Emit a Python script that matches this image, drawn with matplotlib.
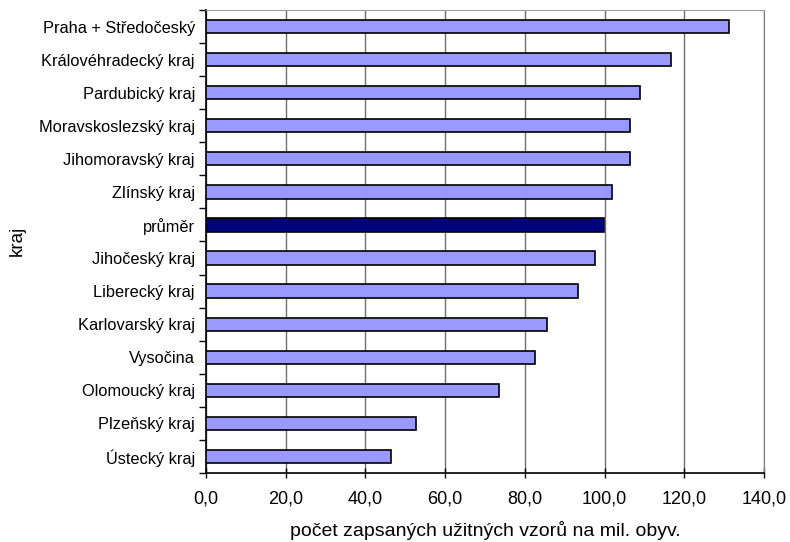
import numpy as np
import matplotlib
matplotlib.use('Agg')
import matplotlib.pyplot as plt
from matplotlib.ticker import FuncFormatter, FixedLocator

plt.rcParams['font.family'] = ['Liberation Sans', 'DejaVu Sans']

# kraje shora dolů
regions = ['Praha + Středočeský', 'Královéhradecký kraj', 'Pardubický kraj',
           'Moravskoslezský kraj', 'Jihomoravský kraj', 'Zlínský kraj', 'průměr',
           'Jihočeský kraj', 'Liberecký kraj', 'Karlovarský kraj', 'Vysočina',
           'Olomoucký kraj', 'Plzeňský kraj', 'Ústecký kraj']
values = [131.1, 116.7, 108.9, 106.3, 106.3, 101.8, 99.8,
          97.5, 93.4, 85.5, 82.5, 73.4, 52.7, 46.4]
x_ticks = [0, 20, 40, 60, 80, 100, 120, 140]

fig = plt.figure(figsize=(7.9, 5.42), dpi=100)
ax = fig.add_axes([206 / 790, 1 - 473 / 542, 558 / 790, 463 / 542])

n = len(regions)
ypos = np.arange(n)[::-1]
colors = ['#000080' if r == 'průměr' else '#9999FF' for r in regions]
ax.barh(ypos, values, height=0.4, color=colors, edgecolor='black', linewidth=1.2, zorder=3)

ax.set_xlim(0, 140)
ax.set_ylim(-0.5, n - 0.5)
ax.set_xticks(x_ticks)
ax.xaxis.set_major_formatter(FuncFormatter(lambda v, p: f'{v:.1f}'.replace('.', ',')))
ax.tick_params(axis='x', direction='inout', length=7, width=1, labelsize=13, pad=9)

ax.set_yticks(ypos)
ax.set_yticklabels(regions, fontsize=11.8)
ax.yaxis.set_minor_locator(FixedLocator(np.arange(n + 1) - 0.5))
ax.tick_params(axis='y', which='major', length=0, pad=8)
ax.tick_params(axis='y', which='minor', direction='out', length=5, width=1)

ax.grid(axis='x', color='#707070', linewidth=1, zorder=0)
ax.spines['top'].set_color('#a0a0a0')
ax.spines['right'].set_color('#808080')
ax.spines['left'].set_linewidth(1.2)
ax.spines['bottom'].set_linewidth(1.2)

ax.set_xlabel('počet zapsaných užitných vzorů na mil. obyv.', fontsize=14, labelpad=10)
fig.text(17 / 790, 1 - 241 / 542, 'kraj', rotation=90, fontsize=13.5, ha='center', va='center')

fig.savefig('out.png', dpi=100)
